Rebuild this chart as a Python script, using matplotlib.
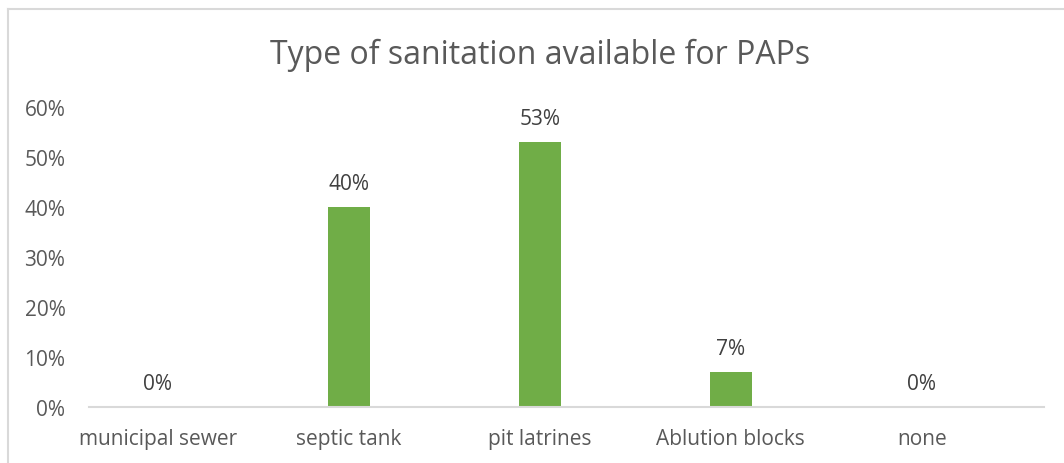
import matplotlib.pyplot as plt
from matplotlib.lines import Line2D
from matplotlib.ticker import PercentFormatter

categories = ['municipal sewer', 'septic tank', 'pit latrines', 'Ablution blocks', 'none']
values = [0, 40, 53, 7, 0]
yticks = [0, 10, 20, 30, 40, 50, 60]

plt.rcParams['font.family'] = ['Open Sans', 'DejaVu Sans']

W, H = 1064, 464
fig = plt.figure(figsize=(W / 100, H / 100), dpi=100)
ax = fig.add_axes([89 / W, 1 - 408 / H, (1044 - 89) / W, 300 / H])

x = range(len(categories))
ax.bar(x, values, width=0.22, color='#70AD47')
for i, v in zip(x, values):
    ax.annotate(f'{v}%', (i, v), xytext=(0, 9), textcoords='offset points',
                ha='center', va='bottom', fontsize=15, color='#404040')

ax.set_xlim(-0.36, len(categories) - 0.36)
ax.set_ylim(0, 60)
ax.set_yticks(yticks)
ax.yaxis.set_major_formatter(PercentFormatter(decimals=0))
ax.set_xticks(list(x))
ax.set_xticklabels(categories)
ax.tick_params(axis='both', length=0, labelsize=15, labelcolor='#595959')
ax.tick_params(axis='x', pad=15)
ax.tick_params(axis='y', pad=17)
for s in ['top', 'right', 'left']:
    ax.spines[s].set_visible(False)
ax.spines['bottom'].set_color('#D9D9D9')
ax.spines['bottom'].set_linewidth(1.5)

fig.text(540 / W, 1 - 55 / H, 'Type of sanitation available for PAPs',
         ha='center', va='center', fontsize=23, color='#595959')

# chart area border (only left and top visible in the crop)
fig.add_artist(Line2D([8 / W, 8 / W], [0, 1 - 10 / H], transform=fig.transFigure,
                      color='#D9D9D9', lw=1.5))
fig.add_artist(Line2D([8 / W, 1], [1 - 10 / H, 1 - 10 / H], transform=fig.transFigure,
                      color='#D9D9D9', lw=1.5))

fig.savefig('out.png', dpi=100)
